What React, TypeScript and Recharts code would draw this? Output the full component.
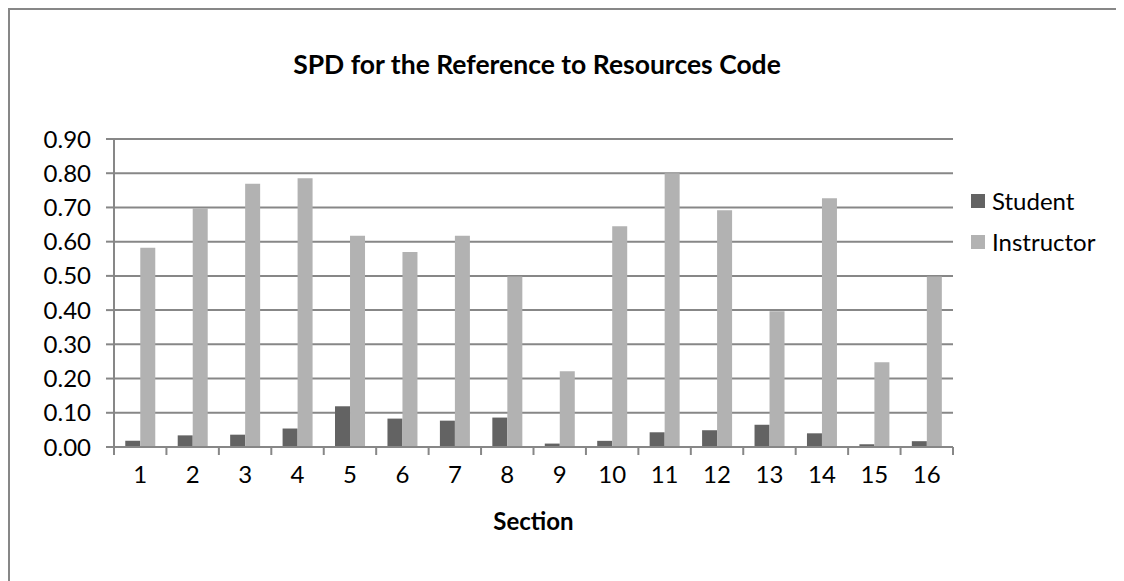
import React from 'react';
import { BarChart, Bar, XAxis, YAxis, CartesianGrid } from 'recharts';

const sections = ['1', '2', '3', '4', '5', '6', '7', '8', '9', '10', '11', '12', '13', '14', '15', '16'];
const student = [0.018, 0.034, 0.036, 0.054, 0.119, 0.083, 0.077, 0.086, 0.01, 0.018, 0.043, 0.049, 0.065, 0.04, 0.008, 0.017];
const instructor = [0.582, 0.698, 0.769, 0.785, 0.617, 0.57, 0.617, 0.498, 0.221, 0.645, 0.8, 0.692, 0.397, 0.727, 0.248, 0.498];
const yTicks = [0, 0.1, 0.2, 0.3, 0.4, 0.5, 0.6, 0.7, 0.8, 0.9];

const data = sections.map((s, i) => ({ section: s, Student: student[i], Instructor: instructor[i] }));

const FONT = 'Lato, "Open Sans", sans-serif';
const GRID = '#878787';
const STUDENT_COLOR = '#636363';
const INSTRUCTOR_COLOR = '#b2b2b2';

const CHART_W = 1115;
const CHART_H = 572;
const MARGIN = { top: 129, right: 172, left: 0, bottom: 0 };
const Y_AXIS_W = 104;
const BAND = (CHART_W - MARGIN.right - Y_AXIS_W) / sections.length;

if (typeof document !== 'undefined') {
  document.body.style.overflow = 'hidden';
}

// Excel-style ticks sit on the category boundaries, not the centres
const SectionTick = (props: any) => {
  const { x, y, payload, index } = props;
  const left = x - BAND / 2;
  return (
    <g>
      <line x1={left} y1={y} x2={left} y2={y + 8} stroke={GRID} strokeWidth={2} />
      {index === sections.length - 1 && (
        <line x1={x + BAND / 2} y1={y} x2={x + BAND / 2} y2={y + 8} stroke={GRID} strokeWidth={2} />
      )}
      <text x={x} y={y + 36} textAnchor="middle" fill="#000" fontSize={24} fontFamily={FONT}>
        {payload.value}
      </text>
    </g>
  );
};

const legendItems = [
  { name: 'Student', color: STUDENT_COLOR },
  { name: 'Instructor', color: INSTRUCTOR_COLOR },
];

export default function App() {
  return (
    <div
      style={{
        position: 'relative',
        width: 1116,
        height: 573,
        boxSizing: 'border-box',
        borderTop: `2px solid ${GRID}`,
        borderLeft: `2px solid ${GRID}`,
        background: '#fff',
      }}
    >
      <div
        style={{
          position: 'absolute',
          left: 0,
          width: 1054,
          top: 38,
          textAlign: 'center',
          fontFamily: FONT,
          fontWeight: 'bold',
          fontSize: 26.5,
          color: '#000',
        }}
      >
        SPD for the Reference to Resources Code
      </div>
      <BarChart
        width={CHART_W}
        height={CHART_H}
        data={data}
        margin={MARGIN}
        barCategoryGap="21.5%"
        barGap={0}
      >
        <CartesianGrid vertical={false} horizontal stroke={GRID} strokeWidth={2} />
        <XAxis
          dataKey="section"
          height={135}
          axisLine={{ stroke: GRID, strokeWidth: 2 }}
          tickLine={false}
          tickSize={0}
          tickMargin={0}
          interval={0}
          tick={<SectionTick />}
        />
        <YAxis
          width={Y_AXIS_W}
          domain={[0, 0.9]}
          ticks={yTicks}
          interval={0}
          tickFormatter={(v: number) => v.toFixed(2)}
          axisLine={{ stroke: GRID, strokeWidth: 2 }}
          tickLine={{ stroke: GRID, strokeWidth: 2 }}
          tickSize={8}
          tickMargin={15}
          tick={{ fill: '#000', fontSize: 24, fontFamily: FONT }}
        />
        <Bar dataKey="Student" fill={STUDENT_COLOR} isAnimationActive={false} />
        <Bar dataKey="Instructor" fill={INSTRUCTOR_COLOR} isAnimationActive={false} />
      </BarChart>
      <div style={{ position: 'absolute', left: 961, top: 170, fontFamily: FONT, fontSize: 24, color: '#000' }}>
        {legendItems.map((item) => (
          <div key={item.name} style={{ display: 'flex', alignItems: 'center', height: 41 }}>
            <span style={{ width: 14, height: 14, background: item.color, marginRight: 7, display: 'inline-block' }} />
            <span>{item.name}</span>
          </div>
        ))}
      </div>
      <div
        style={{
          position: 'absolute',
          left: 104,
          width: 839,
          top: 496,
          textAlign: 'center',
          fontFamily: FONT,
          fontWeight: 'bold',
          fontSize: 24,
          color: '#000',
        }}
      >
        Section
      </div>
    </div>
  );
}
